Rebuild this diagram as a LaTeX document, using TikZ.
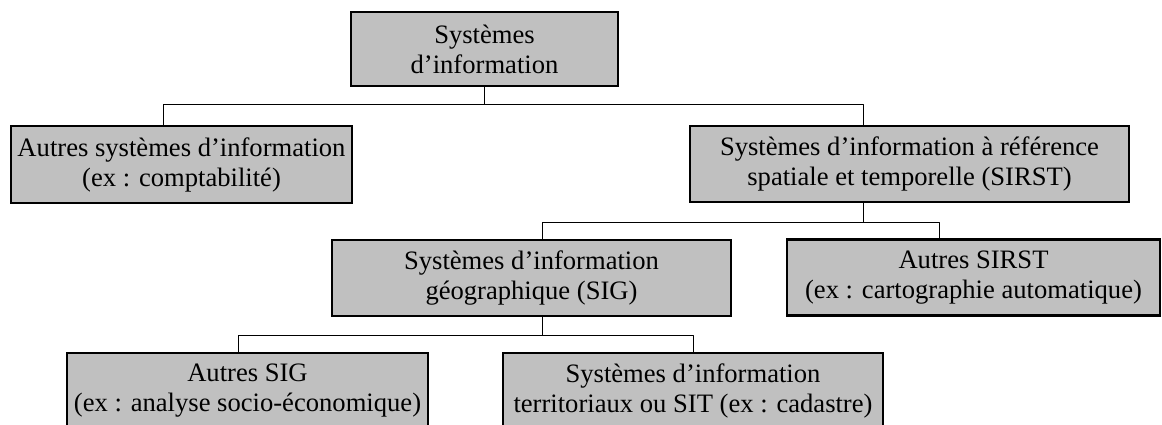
\documentclass[tikz,border=0pt]{standalone}
\usepackage{fontspec}
\setmainfont{Liberation Serif}
\usepackage{tikz}
\definecolor{boxgray}{RGB}{192,192,192}

\tikzset{
  sysbox/.style={draw=black, line width=2.2pt, line join=miter, fill=boxgray,
    minimum height=76pt, inner sep=0pt, align=center,
    font=\fontsize{26.6}{30}\selectfont},
  link/.style={draw=black, line width=1pt}
}

\begin{document}
\begin{tikzpicture}[line cap=round,line join=round,x=1pt,y=-1pt]
\useasboundingbox (0,0) rectangle (1162,425);
\clip (0,0) rectangle (1162,425);
% niveau 1
\node [sysbox, minimum width=267pt, minimum height=74pt] (top) at (484.5,49) {Systèmes\\d’information};
% niveau 2
\node [sysbox, minimum width=341pt, minimum height=77pt] (autres) at (181.5,164.5) {Autres systèmes d’information\\(ex : comptabilité)};
\node [sysbox, minimum width=439pt] (sirst) at (909.5,164) {Systèmes d’information à référence\\spatiale et temporelle (SIRST)};
% niveau 3
\node [sysbox, minimum width=399pt] (sig) at (531.5,278) {Systèmes d’information\\géographique (SIG)};
\node [sysbox, minimum width=373pt] (autsirst) at (973.5,277.5) {Autres SIRST\\(ex : cartographie automatique)};
% niveau 4
\node [sysbox, minimum width=361pt] (autsig) at (247.5,391) {Autres SIG\\(ex : analyse socio-économique)};
\node [sysbox, minimum width=380pt] (sit) at (693,391) {Systèmes d’information\\territoriaux ou SIT (ex : cadastre)};
%
\draw [link] (top.south) -- ++(0,17) -| ([xshift=-18.5pt]autres.north);
\draw [link] (top.south) -- ++(0,17) -| ([xshift=-46.5pt]sirst.north);
\draw [link] ([xshift=-46.5pt]sirst.south) -- ++(0,19) -| ([xshift=10.5pt]sig.north);
\draw [link] ([xshift=-46.5pt]sirst.south) -- ++(0,19) -| ([xshift=-34.5pt]autsirst.north);
\draw [link] ([xshift=10.5pt]sig.south) -- ++(0,18) -| ([xshift=-9.5pt]autsig.north);
\draw [link] ([xshift=10.5pt]sig.south) -- ++(0,18) -| (sit.north);
\end{tikzpicture}
\end{document}
